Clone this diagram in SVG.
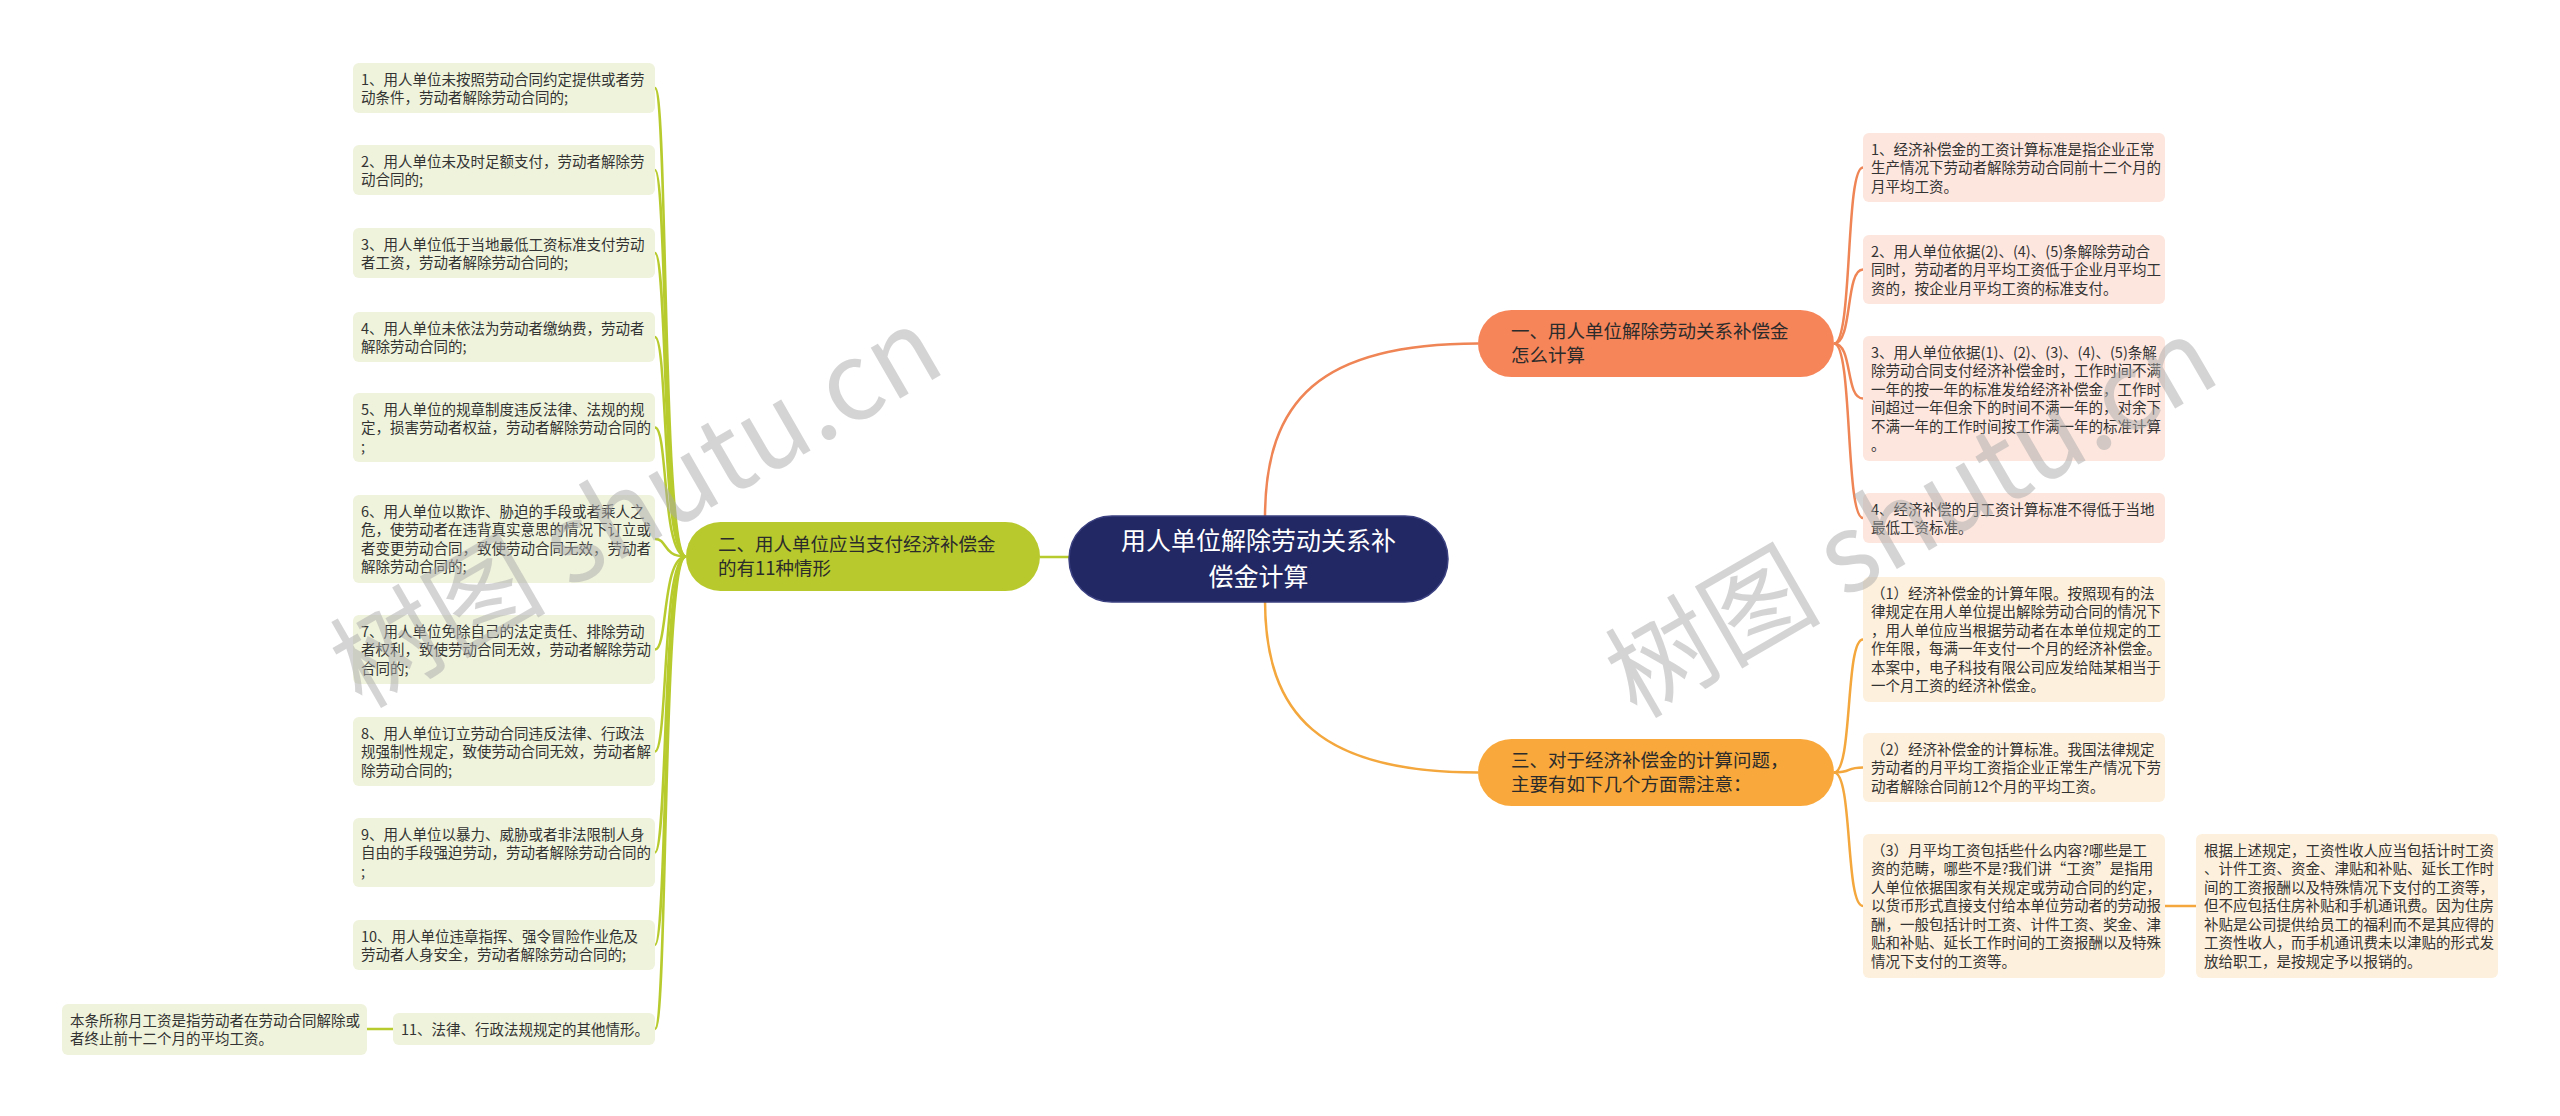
<svg xmlns="http://www.w3.org/2000/svg" width="2560" height="1116" viewBox="0 0 2560 1116">
<style>
text{font-family:"Noto Sans CJK SC","Microsoft YaHei",sans-serif;}
.lt{font-size:14.5px;fill:#333333;}
.nt{font-size:18.5px;fill:#2b2b2b;}
.ct{font-size:25px;fill:#ffffff;}
.lg{fill:#eff3dc;}
.lo{fill:#fde6de;}
.la{fill:#fdf0dc;}
.cg{fill:none;stroke:#b8cb2e;stroke-width:2.5;}
.co{fill:none;stroke:#ef8455;stroke-width:2.5;}
.ca{fill:none;stroke:#f3a73c;stroke-width:2.5;}
.wm{font-size:108px;fill:#aaaaaa;fill-opacity:0.5;}
</style>
<rect width="2560" height="1116" fill="#ffffff"/>
<g id="connectors">
<path class="cg" d="M1069 557 H1040" stroke-width="3"/>
<path class="co" d="M1265 518 C1265 400 1320 343.5 1478 343.5" stroke-width="3"/>
<path class="ca" d="M1265 600 C1265 715 1320 772.5 1478 772.5" stroke-width="3"/>
<path class="cg" d="M686 556.5 C662 556.5 668 88 655 88"/>
<path class="cg" d="M686 556.5 C662 556.5 668 170 655 170"/>
<path class="cg" d="M686 556.5 C662 556.5 668 253 655 253"/>
<path class="cg" d="M686 556.5 C662 556.5 668 337 655 337"/>
<path class="cg" d="M686 556.5 C662 556.5 668 427.5 655 427.5"/>
<path class="cg" d="M686 556.5 C662 556.5 668 539 655 539"/>
<path class="cg" d="M686 556.5 C662 556.5 668 649.5 655 649.5"/>
<path class="cg" d="M686 556.5 C662 556.5 668 751.5 655 751.5"/>
<path class="cg" d="M686 556.5 C662 556.5 668 852.5 655 852.5"/>
<path class="cg" d="M686 556.5 C662 556.5 668 945 655 945"/>
<path class="cg" d="M686 556.5 C662 556.5 668 1029 655 1029"/>
<path class="cg" d="M393 1029 H367"/>
<path class="co" d="M1834 343.5 C1853 343.5 1845 167.5 1863 167.5"/>
<path class="co" d="M1834 343.5 C1853 343.5 1845 269.5 1863 269.5"/>
<path class="co" d="M1834 343.5 C1853 343.5 1845 398.5 1863 398.5"/>
<path class="co" d="M1834 343.5 C1853 343.5 1845 518 1863 518"/>
<path class="ca" d="M1834 772.5 C1853 772.5 1845 639.5 1863 639.5"/>
<path class="ca" d="M1834 772.5 C1853 772.5 1845 767.5 1863 767.5"/>
<path class="ca" d="M1834 772.5 C1853 772.5 1845 906 1863 906"/>
<path class="ca" d="M2165 906 H2196"/>
</g>
<g id="center">
<rect x="1069" y="516" width="379" height="86" rx="43" fill="#222863" stroke="#3b4080" stroke-width="1.5"/>
<text class="ct" text-anchor="middle"><tspan x="1258.5" y="550">用人单位解除劳动关系补</tspan><tspan x="1258.5" y="586">偿金计算</tspan></text>
</g>
<g id="b2">
<rect x="686" y="522" width="354" height="69" rx="34.5" fill="#b7c92c"/>
<text class="nt"><tspan x="718" y="551">二、用人单位应当支付经济补偿金</tspan><tspan x="718" y="575">的有11种情形</tspan></text>
</g>
<g id="b1">
<rect x="1478" y="310" width="356" height="67" rx="33.5" fill="#f6855a"/>
<text class="nt"><tspan x="1511" y="338">一、用人单位解除劳动关系补偿金</tspan><tspan x="1511" y="362">怎么计算</tspan></text>
</g>
<g id="b3">
<rect x="1478" y="739" width="356" height="67" rx="33.5" fill="#f9a93b"/>
<text class="nt"><tspan x="1511" y="767">三、对于经济补偿金的计算问题，</tspan><tspan x="1511" y="791">主要有如下几个方面需注意：</tspan></text>
</g>
<g id="l1"><rect class="lg" x="353" y="63" width="302" height="50" rx="6"/><text class="lt"><tspan x="361" y="84.5">1、用人单位未按照劳动合同约定提供或者劳</tspan><tspan x="361" y="103">动条件，劳动者解除劳动合同的;</tspan></text></g>
<g id="l2"><rect class="lg" x="353" y="145" width="302" height="50" rx="6"/><text class="lt"><tspan x="361" y="166.5">2、用人单位未及时足额支付，劳动者解除劳</tspan><tspan x="361" y="185">动合同的;</tspan></text></g>
<g id="l3"><rect class="lg" x="353" y="228" width="302" height="50" rx="6"/><text class="lt"><tspan x="361" y="249.5">3、用人单位低于当地最低工资标准支付劳动</tspan><tspan x="361" y="268">者工资，劳动者解除劳动合同的;</tspan></text></g>
<g id="l4"><rect class="lg" x="353" y="312" width="302" height="50" rx="6"/><text class="lt"><tspan x="361" y="333.5">4、用人单位未依法为劳动者缴纳费，劳动者</tspan><tspan x="361" y="352">解除劳动合同的;</tspan></text></g>
<g id="l5"><rect class="lg" x="353" y="393" width="302" height="69" rx="6"/><text class="lt"><tspan x="361" y="414.5">5、用人单位的规章制度违反法律、法规的规</tspan><tspan x="361" y="433">定，损害劳动者权益，劳动者解除劳动合同的</tspan><tspan x="361" y="451.5">;</tspan></text></g>
<g id="l6"><rect class="lg" x="353" y="495" width="302" height="88" rx="6"/><text class="lt"><tspan x="361" y="516.5">6、用人单位以欺诈、胁迫的手段或者乘人之</tspan><tspan x="361" y="535">危，使劳动者在违背真实意思的情况下订立或</tspan><tspan x="361" y="553.5">者变更劳动合同，致使劳动合同无效，劳动者</tspan><tspan x="361" y="572">解除劳动合同的;</tspan></text></g>
<g id="l7"><rect class="lg" x="353" y="615" width="302" height="69" rx="6"/><text class="lt"><tspan x="361" y="636.5">7、用人单位免除自己的法定责任、排除劳动</tspan><tspan x="361" y="655">者权利，致使劳动合同无效，劳动者解除劳动</tspan><tspan x="361" y="673.5">合同的;</tspan></text></g>
<g id="l8"><rect class="lg" x="353" y="717" width="302" height="69" rx="6"/><text class="lt"><tspan x="361" y="738.5">8、用人单位订立劳动合同违反法律、行政法</tspan><tspan x="361" y="757">规强制性规定，致使劳动合同无效，劳动者解</tspan><tspan x="361" y="775.5">除劳动合同的;</tspan></text></g>
<g id="l9"><rect class="lg" x="353" y="818" width="302" height="69" rx="6"/><text class="lt"><tspan x="361" y="839.5">9、用人单位以暴力、威胁或者非法限制人身</tspan><tspan x="361" y="858">自由的手段强迫劳动，劳动者解除劳动合同的</tspan><tspan x="361" y="876.5">;</tspan></text></g>
<g id="l10"><rect class="lg" x="353" y="920" width="302" height="50" rx="6"/><text class="lt"><tspan x="361" y="941.5">10、用人单位违章指挥、强令冒险作业危及</tspan><tspan x="361" y="960">劳动者人身安全，劳动者解除劳动合同的;</tspan></text></g>
<g id="l11"><rect class="lg" x="393" y="1013" width="262" height="32" rx="6"/><text class="lt" x="401" y="1034.5">11、法律、行政法规规定的其他情形。</text></g>
<g id="l11a"><rect class="lg" x="62" y="1004" width="305" height="51" rx="6"/><text class="lt"><tspan x="70" y="1025.5">本条所称月工资是指劳动者在劳动合同解除或</tspan><tspan x="70" y="1044">者终止前十二个月的平均工资。</tspan></text></g>
<g id="r1"><rect class="lo" x="1863" y="133" width="302" height="69" rx="6"/><text class="lt"><tspan x="1871" y="154.5">1、经济补偿金的工资计算标准是指企业正常</tspan><tspan x="1871" y="173">生产情况下劳动者解除劳动合同前十二个月的</tspan><tspan x="1871" y="191.5">月平均工资。</tspan></text></g>
<g id="r2"><rect class="lo" x="1863" y="235" width="302" height="69" rx="6"/><text class="lt"><tspan x="1871" y="256.5">2、用人单位依据(2)、(4)、(5)条解除劳动合</tspan><tspan x="1871" y="275">同时，劳动者的月平均工资低于企业月平均工</tspan><tspan x="1871" y="293.5">资的，按企业月平均工资的标准支付。</tspan></text></g>
<g id="r3"><rect class="lo" x="1863" y="336" width="302" height="125" rx="6"/><text class="lt"><tspan x="1871" y="357.5">3、用人单位依据(1)、(2)、(3)、(4)、(5)条解</tspan><tspan x="1871" y="376">除劳动合同支付经济补偿金时，工作时间不满</tspan><tspan x="1871" y="394.5">一年的按一年的标准发给经济补偿金，工作时</tspan><tspan x="1871" y="413">间超过一年但余下的时间不满一年的，对余下</tspan><tspan x="1871" y="431.5">不满一年的工作时间按工作满一年的标准计算</tspan><tspan x="1871" y="450">。</tspan></text></g>
<g id="r4"><rect class="lo" x="1863" y="493" width="302" height="50" rx="6"/><text class="lt"><tspan x="1871" y="514.5">4、经济补偿的月工资计算标准不得低于当地</tspan><tspan x="1871" y="533">最低工资标准。</tspan></text></g>
<g id="a1"><rect class="la" x="1863" y="577" width="302" height="125" rx="6"/><text class="lt"><tspan x="1871" y="598.5">（1）经济补偿金的计算年限。按照现有的法</tspan><tspan x="1871" y="617">律规定在用人单位提出解除劳动合同的情况下</tspan><tspan x="1871" y="635.5">，用人单位应当根据劳动者在本单位规定的工</tspan><tspan x="1871" y="654">作年限，每满一年支付一个月的经济补偿金。</tspan><tspan x="1871" y="672.5">本案中，电子科技有限公司应发给陆某相当于</tspan><tspan x="1871" y="691">一个月工资的经济补偿金。</tspan></text></g>
<g id="a2"><rect class="la" x="1863" y="733" width="302" height="69" rx="6"/><text class="lt"><tspan x="1871" y="754.5">（2）经济补偿金的计算标准。我国法律规定</tspan><tspan x="1871" y="773">劳动者的月平均工资指企业正常生产情况下劳</tspan><tspan x="1871" y="791.5">动者解除合同前12个月的平均工资。</tspan></text></g>
<g id="a3"><rect class="la" x="1863" y="834" width="302" height="144" rx="6"/><text class="lt"><tspan x="1871" y="855.5">（3）月平均工资包括些什么内容?哪些是工</tspan><tspan x="1871" y="874">资的范畴，哪些不是?我们讲“工资”是指用</tspan><tspan x="1871" y="892.5">人单位依据国家有关规定或劳动合同的约定，</tspan><tspan x="1871" y="911">以货币形式直接支付给本单位劳动者的劳动报</tspan><tspan x="1871" y="929.5">酬，一般包括计时工资、计件工资、奖金、津</tspan><tspan x="1871" y="948">贴和补贴、延长工作时间的工资报酬以及特殊</tspan><tspan x="1871" y="966.5">情况下支付的工资等。</tspan></text></g>
<g id="a3a"><rect class="la" x="2196" y="834" width="302" height="144" rx="6"/><text class="lt"><tspan x="2204" y="855.5">根据上述规定，工资性收人应当包括计时工资</tspan><tspan x="2204" y="874">、计件工资、资金、津贴和补贴、延长工作时</tspan><tspan x="2204" y="892.5">间的工资报酬以及特殊情况下支付的工资等，</tspan><tspan x="2204" y="911">但不应包括住房补贴和手机通讯费。因为住房</tspan><tspan x="2204" y="929.5">补贴是公司提供给员工的福利而不是其应得的</tspan><tspan x="2204" y="948">工资性收人，而手机通讯费未以津贴的形式发</tspan><tspan x="2204" y="966.5">放给职工，是按规定予以报销的。</tspan></text></g>
<g id="watermark">
<text class="wm" text-anchor="middle" transform="translate(655 540) rotate(-30)">树图 shutu.cn</text>
<text class="wm" text-anchor="middle" transform="translate(1930 550) rotate(-30)">树图 shutu.cn</text>
</g>
</svg>
